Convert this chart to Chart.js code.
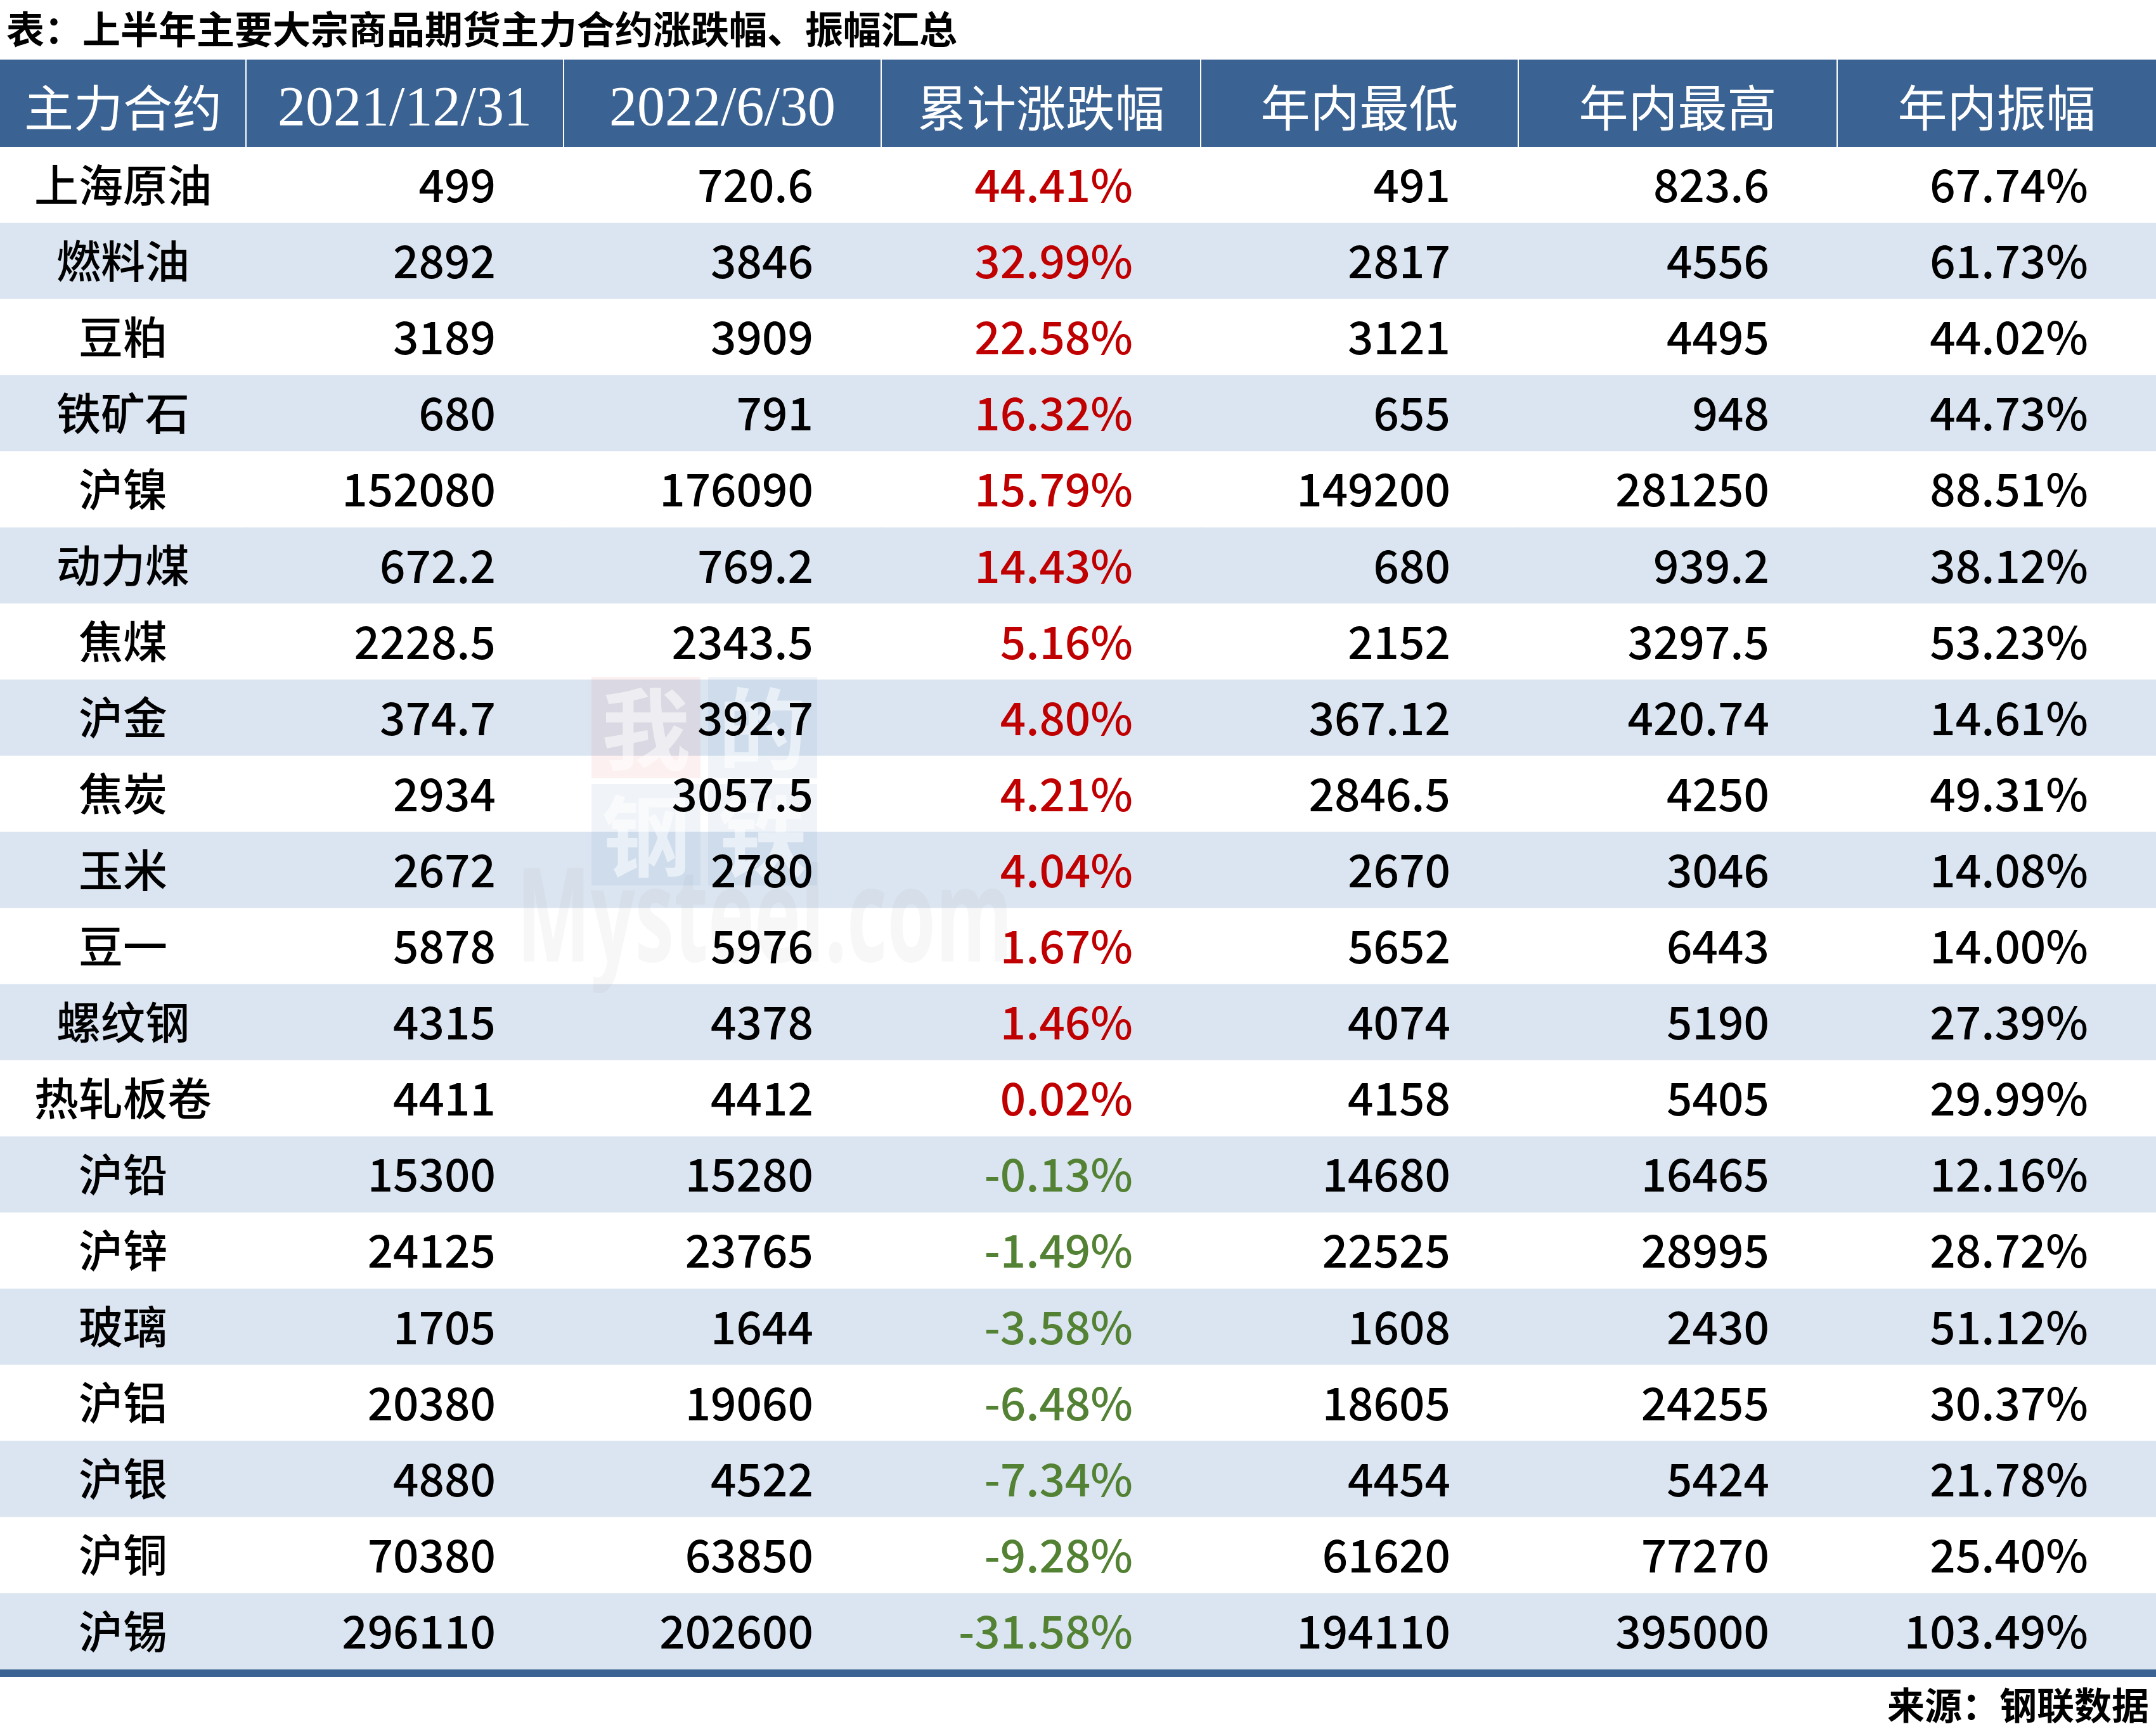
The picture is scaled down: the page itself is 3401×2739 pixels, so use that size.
<!DOCTYPE html>
<html>
<head>
<meta charset="utf-8">
<script src="https://cdn.jsdelivr.net/npm/chart.js@4.4.1/dist/chart.umd.min.js"></script>
<style>
  html, body { margin: 0; padding: 0; background: #fff; }
  canvas { display: block; }
</style>
</head>
<body>
<canvas id="table-chart" width="3401" height="2739"></canvas>
<script>
// 表头与数据
const headers = ['主力合约', '2021/12/31', '2022/6/30', '累计涨跌幅', '年内最低', '年内最高', '年内振幅'];
const contracts = ['上海原油', '燃料油', '豆粕', '铁矿石', '沪镍', '动力煤', '焦煤', '沪金', '焦炭', '玉米',
    '豆一', '螺纹钢', '热轧板卷', '沪铅', '沪锌', '玻璃', '沪铝', '沪银', '沪铜', '沪锡'];
const price20211231 = [499, 2892, 3189, 680, 152080, 672.2, 2228.5, 374.7, 2934, 2672,
    5878, 4315, 4411, 15300, 24125, 1705, 20380, 4880, 70380, 296110];
const price2022630 = [720.6, 3846, 3909, 791, 176090, 769.2, 2343.5, 392.7, 3057.5, 2780,
    5976, 4378, 4412, 15280, 23765, 1644, 19060, 4522, 63850, 202600];
const changePct = [44.41, 32.99, 22.58, 16.32, 15.79, 14.43, 5.16, 4.80, 4.21, 4.04,
    1.67, 1.46, 0.02, -0.13, -1.49, -3.58, -6.48, -7.34, -9.28, -31.58];
const yearLow = [491, 2817, 3121, 655, 149200, 680, 2152, 367.12, 2846.5, 2670,
    5652, 4074, 4158, 14680, 22525, 1608, 18605, 4454, 61620, 194110];
const yearHigh = [823.6, 4556, 4495, 948, 281250, 939.2, 3297.5, 420.74, 4250, 3046,
    6443, 5190, 5405, 16465, 28995, 2430, 24255, 5424, 77270, 395000];
const amplitudePct = [67.74, 61.73, 44.02, 44.73, 88.51, 38.12, 53.23, 14.61, 49.31, 14.08,
    14.00, 27.39, 29.99, 12.16, 28.72, 51.12, 30.37, 21.78, 25.40, 103.49];

const titleText = '表：上半年主要大宗商品期货主力合约涨跌幅、振幅汇总';
const sourceText = '来源：钢联数据';

// 版式
const colWidths = [388, 501, 501, 504, 501, 503, 503];
const colEdges = colWidths.reduce((acc, w) => { acc.push(acc[acc.length - 1] + w); return acc; }, [0]);
const tableWidth = colEdges[colEdges.length - 1];
const headerHeight = 138;
const cellPadRight = 107;

const BLUE = '#3a6292';
const STRIPE = '#dbe5f1';
const RED = '#c00000';
const GREEN = '#548235';

const pct = v => v.toFixed(2) + '%';
const columns = [
    contracts,
    price20211231.map(String),
    price2022630.map(String),
    changePct.map(pct),
    yearLow.map(String),
    yearHigh.map(String),
    amplitudePct.map(pct)
];

function changeColor(v) {
    if (v > 0) return RED;
    if (v < 0) return GREEN;
    return '#000';
}

// 水印（我的钢铁 Mysteel.com）
function drawWatermark(ctx) {
    const boxes = [
        { x: 933, y: 1068, ch: '我', bg: 'rgba(215, 70, 70, 0.08)' },
        { x: 1117, y: 1068, ch: '的', bg: 'rgba(60, 110, 180, 0.08)' },
        { x: 933, y: 1237, ch: '钢', bg: 'rgba(60, 110, 180, 0.08)' },
        { x: 1117, y: 1237, ch: '铁', bg: 'rgba(60, 110, 180, 0.08)' }
    ];
    ctx.textAlign = 'center';
    ctx.textBaseline = 'middle';
    ctx.font = 'bold 140px "Noto Sans CJK SC"';
    boxes.forEach(b => {
        ctx.fillStyle = b.bg;
        ctx.fillRect(b.x, b.y, 172, 160);
        ctx.fillStyle = 'rgba(255, 255, 255, 0.55)';
        ctx.fillText(b.ch, b.x + 86, b.y + 82);
    });
    ctx.save();
    ctx.translate(815, 1517);
    ctx.scale(0.6, 1);
    ctx.fillStyle = 'rgba(120, 120, 120, 0.06)';
    ctx.font = 'bold 206px "Open Sans", sans-serif';
    ctx.textAlign = 'left';
    ctx.textBaseline = 'alphabetic';
    ctx.fillText('Mysteel.com', 0, 0);
    ctx.restore();
}

const tablePlugin = {
    id: 'tablePlugin',
    beforeDraw(chart) {
        const c = chart.ctx;
        c.save();
        c.fillStyle = '#fff';
        c.fillRect(0, 0, chart.width, chart.height);
        c.restore();
    },
    afterDatasetsDraw(chart) {
        const { ctx, chartArea, scales: { x, y } } = chart;
        const left = x.getPixelForValue(0);
        const right = x.getPixelForValue(tableWidth);
        ctx.save();

        drawWatermark(ctx);

        // 表头
        const hTop = chartArea.top - headerHeight;
        ctx.fillStyle = BLUE;
        ctx.fillRect(left, hTop, right - left, headerHeight);
        ctx.strokeStyle = '#fff';
        ctx.lineWidth = 2;
        colEdges.slice(1, -1).forEach(v => {
            const px = x.getPixelForValue(v);
            ctx.beginPath();
            ctx.moveTo(px, hTop);
            ctx.lineTo(px, chartArea.top);
            ctx.stroke();
        });
        ctx.fillStyle = '#fff';
        ctx.textAlign = 'center';
        ctx.textBaseline = 'alphabetic';
        headers.forEach((h, c) => {
            const cx = x.getPixelForValue((colEdges[c] + colEdges[c + 1]) / 2);
            if (/^[\d\/]+$/.test(h)) {
                ctx.font = '88px "Liberation Serif"';
                ctx.fillText(h, cx, hTop + 103);
            } else {
                ctx.font = '78px "Noto Sans CJK SC"';
                ctx.fillText(h, cx, hTop + 106);
            }
        });

        // 单元格文字
        ctx.textBaseline = 'middle';
        contracts.forEach((name, i) => {
            const yc = y.getPixelForValue(i);
            columns.forEach((col, c) => {
                if (c === 0) {
                    ctx.font = '500 70px "Noto Sans CJK SC"';
                    ctx.textAlign = 'center';
                    ctx.fillStyle = '#000';
                    ctx.fillText(col[i], x.getPixelForValue((colEdges[0] + colEdges[1]) / 2), yc);
                } else {
                    ctx.font = '500 71px "Noto Sans CJK SC"';
                    ctx.textAlign = 'right';
                    ctx.fillStyle = c === 3 ? changeColor(changePct[i]) : '#000';
                    ctx.fillText(col[i], x.getPixelForValue(colEdges[c + 1]) - cellPadRight, yc);
                }
            });
        });

        // 底部粗线
        ctx.fillStyle = BLUE;
        ctx.fillRect(left, chartArea.bottom, right - left, 12);

        // 标题与来源
        ctx.fillStyle = '#000';
        ctx.font = 'bold 60px "Noto Sans CJK SC"';
        ctx.textAlign = 'left';
        ctx.fillText(titleText, 10, 46);
        ctx.textAlign = 'right';
        ctx.font = 'bold 59px "Noto Sans CJK SC"';
        ctx.fillText(sourceText, 3390, 2691);
        ctx.restore();
    }
};

const ctxTable = document.getElementById('table-chart').getContext('2d');
const tableChart = new Chart(ctxTable, {
    type: 'bar',
    data: {
        labels: contracts,
        datasets: [{
            label: '行底色',
            data: contracts.map(() => [0, tableWidth]),
            backgroundColor: contracts.map((_, i) => i % 2 ? STRIPE : '#ffffff'),
            borderWidth: 0,
            barPercentage: 1,
            categoryPercentage: 1
        }]
    },
    options: {
        indexAxis: 'y',
        responsive: false,
        devicePixelRatio: 1,
        animation: false,
        layout: { padding: { top: 232, bottom: 105, left: 0, right: 0 } },
        plugins: {
            legend: { display: false },
            tooltip: { enabled: false }
        },
        scales: {
            x: {
                type: 'linear',
                min: 0,
                max: tableWidth,
                z: 1,
                ticks: { display: false },
                grid: { color: '#bfbfbf', lineWidth: 2, drawTicks: false },
                border: { display: false, dash: [8, 4] },
                afterBuildTicks: scale => {
                    scale.ticks = colEdges.slice(1, -1).map(v => ({ value: v }));
                },
                afterFit: scale => { scale.height = 0; }
            },
            y: {
                type: 'category',
                display: false
            }
        }
    },
    plugins: [tablePlugin]
});
</script>
</body>
</html>
